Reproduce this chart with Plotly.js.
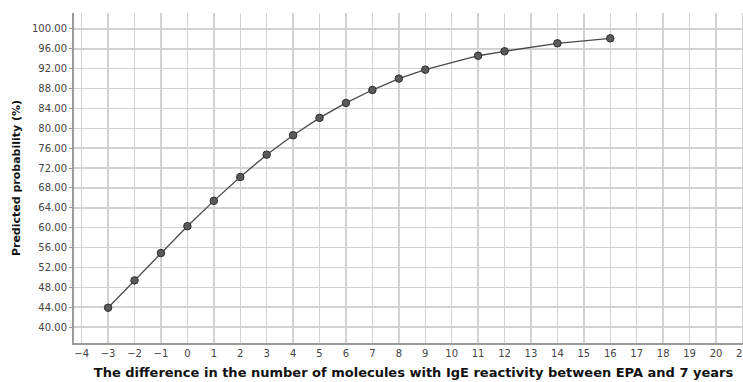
<!DOCTYPE html>
<html>
<head>
<meta charset="utf-8">
<script src="https://cdn.plot.ly/plotly-3.0.1.min.js"></script>
<style>
  html, body { margin: 0; padding: 0; overflow: hidden; background: #ffffff; }
  #chart { width: 790px; height: 382px; }
</style>
</head>
<body>
<div id="chart"></div>
<script>
// Difference in number of IgE-reactive molecules (EPA vs 7 years)
const difference = [-3, -2, -1, 0, 1, 2, 3, 4, 5, 6, 7, 8, 9, 11, 12, 14, 16];
// Predicted probability (%) for each difference
const probability = [43.9, 49.4, 54.9, 60.3, 65.4, 70.2, 74.7, 78.6, 82.1, 85.1, 87.7, 90.0, 91.8, 94.6, 95.5, 97.1, 98.1];

const xTickValues = [-4, -3, -2, -1, 0, 1, 2, 3, 4, 5, 6, 7, 8, 9, 10, 11, 12, 13, 14, 15, 16, 17, 18, 19, 20, 21];
const yTickValues = [40, 44, 48, 52, 56, 60, 64, 68, 72, 76, 80, 84, 88, 92, 96, 100];
const yTickLabels = yTickValues.map(v => v.toFixed(2));

const trace = {
  x: difference,
  y: probability,
  type: 'scatter',
  mode: 'lines+markers',
  line: { color: '#4a4a4a', width: 1.3 },
  marker: { size: 7.5, color: '#5a5a5a', line: { color: '#2e2e2e', width: 1 } },
  hoverinfo: 'x+y'
};

const layout = {
  width: 790,
  height: 382,
  margin: { l: 74, r: 37, t: 13, b: 39 },
  paper_bgcolor: '#ffffff',
  plot_bgcolor: '#ffffff',
  showlegend: false,
  font: { family: 'DejaVu Sans, sans-serif', color: '#333333', size: 10 },
  xaxis: {
    range: [-4.29, 21.4],
    tickmode: 'array',
    tickvals: xTickValues,
    ticktext: xTickValues.map(v => v < 0 ? '\u2212' + Math.abs(v) : String(v)),
    showgrid: true,
    gridcolor: '#d2d2d2',
    gridwidth: 1.5,
    zeroline: false,
    showline: true,
    linecolor: '#9a9a9a',
    linewidth: 2,
    ticks: '',
    tickfont: { family: 'DejaVu Sans, sans-serif', size: 10, color: '#444444' },
    title: {
      text: 'The difference in the number of molecules with IgE reactivity between EPA and 7 years',
      font: { family: 'DejaVu Sans, sans-serif', size: 13, color: '#111111', weight: 'bold' },
      standoff: 10
    }
  },
  yaxis: {
    range: [36.8, 103.2],
    tickmode: 'array',
    tickvals: yTickValues,
    ticktext: yTickLabels,
    showgrid: true,
    gridcolor: '#d2d2d2',
    gridwidth: 1.5,
    zeroline: false,
    showline: true,
    linecolor: '#9a9a9a',
    linewidth: 2,
    ticks: 'outside',
    ticklen: 3,
    tickcolor: '#9a9a9a',
    tickfont: { family: 'DejaVu Sans, sans-serif', size: 10, color: '#444444' },
    title: {
      text: 'Predicted probability (%)',
      font: { family: 'DejaVu Sans, sans-serif', size: 11, color: '#111111', weight: 'bold' },
      standoff: 9
    }
  }
};

Plotly.newPlot('chart', [trace], layout, { displayModeBar: false, staticPlot: true });
</script>
</body>
</html>
